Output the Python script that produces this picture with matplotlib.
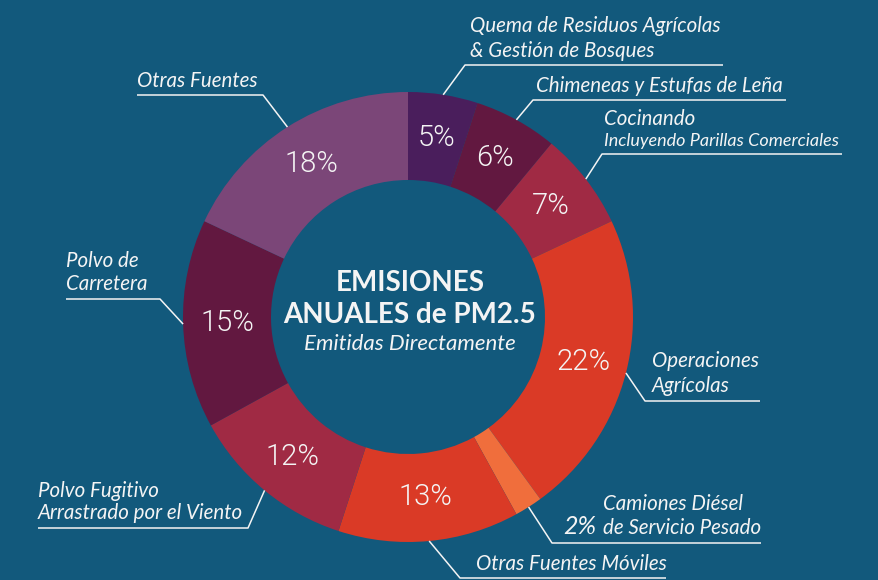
import matplotlib
matplotlib.use('Agg')
import matplotlib.pyplot as plt
import numpy as np

# datos del grafico (porcentajes, en sentido horario desde las 12)
fuentes = ['Quema de Residuos', 'Chimeneas', 'Cocinando', 'Operaciones Agricolas',
           'Camiones Diesel', 'Otras Fuentes Moviles', 'Polvo Fugitivo',
           'Polvo de Carretera', 'Otras Fuentes']
valores = [5, 6, 7, 22, 2, 13, 12, 15, 18]
colores = ['#4a1e5c', '#621840', '#a02a44', '#da3a26', '#f06e3c',
           '#da3a26', '#a02a44', '#621840', '#7b4678']

W, H = 879, 580
FONDO = '#12597c'
BLANCO = '#f4f4f4'
plt.rcParams['font.family'] = ['Lato', 'DejaVu Sans']

def Y(y):  # coordenada en pixeles desde arriba -> eje y hacia arriba
    return H - y

fig = plt.figure(figsize=(W / 100, H / 100), dpi=100, facecolor=FONDO)
ax = fig.add_axes([0, 0, 1, 1])
ax.set_facecolor(FONDO)

cx, cy, R = 408, Y(317), 225
cunas, textos, pcts = ax.pie(valores, colors=colores, startangle=90, counterclock=False,
                             center=(cx, cy), radius=R,
                             wedgeprops=dict(width=88, linewidth=0),
                             autopct=lambda p: f'{p:.0f}%' if p > 3 else '',
                             pctdistance=0.805,
                             textprops=dict(color=BLANCO, fontsize=21,
                                            family=['Roboto', 'Lato', 'DejaVu Sans'],
                                            fontweight=300))
ax.set_xlim(0, W)
ax.set_ylim(0, H)
ax.set_aspect('equal')
ax.axis('off')

FS = 14.8
# etiquetas: (codo_x, codo_y, fin_linea_x, [(texto, x, y_base, tamano)])
etiquetas = [
    (465, 65, 723, [('Quema de Residuos Agrícolas', 470, 32, FS),
                    ('& Gestión de Bosques', 470, 57, FS)]),
    (533, 100, 786, [('Chimeneas y Estufas de Leña', 536, 92, FS)]),
    (602, 154, 842, [('Cocinando', 604, 125, FS),
                     ('Incluyendo Parillas Comerciales', 604, 146, 13)]),
    (645, 401, 760, [('Operaciones', 652, 367, FS),
                     ('Agrícolas', 652, 392, FS)]),
    (552, 543, 761, [('Camiones Diésel', 603, 510, FS),
                     ('de Servicio Pesado', 603, 534, FS)]),
    (460, 578, 666, [('Otras Fuentes Móviles', 476, 570, FS)]),
    (248, 528, 38, [('Polvo Fugitivo', 38, 497, FS),
                    ('Arrastrado por el Viento', 38, 519, FS)]),
    (160, 299, 66, [('Polvo de', 66, 267, FS),
                    ('Carretera', 66, 290, FS)]),
    (263, 95, 137, [('Otras Fuentes', 137, 87, FS)]),
]

for cuna, (ex, ey, fx, lineas) in zip(cunas, etiquetas):
    ang = np.deg2rad((cuna.theta1 + cuna.theta2) / 2)
    px, py = cx + R * np.cos(ang), cy + R * np.sin(ang)
    ax.plot([px, ex, fx], [py, Y(ey), Y(ey)], color=BLANCO, lw=1.1, solid_capstyle='butt')
    for t, tx, ty, fs in lineas:
        ax.text(tx, Y(ty), t, color=BLANCO, fontsize=fs, fontstyle='italic',
                ha='left', va='baseline')

# el 2% va fuera del anillo, junto a su etiqueta
ax.text(596, Y(534), f'{valores[4]}%', color=BLANCO, fontsize=18, fontstyle='italic',
        ha='right', va='baseline')

# titulo central
ax.text(410, Y(291), 'EMISIONES', color=BLANCO, fontsize=20, fontweight='bold',
        ha='center', va='baseline')
ax.text(410, Y(323), 'ANUALES de PM2.5', color=BLANCO, fontsize=20, fontweight='bold',
        ha='center', va='baseline')
ax.text(410, Y(350), 'Emitidas Directamente', color=BLANCO, fontsize=16,
        fontstyle='italic', ha='center', va='baseline')

fig.savefig('out.png', dpi=100, facecolor=FONDO)
